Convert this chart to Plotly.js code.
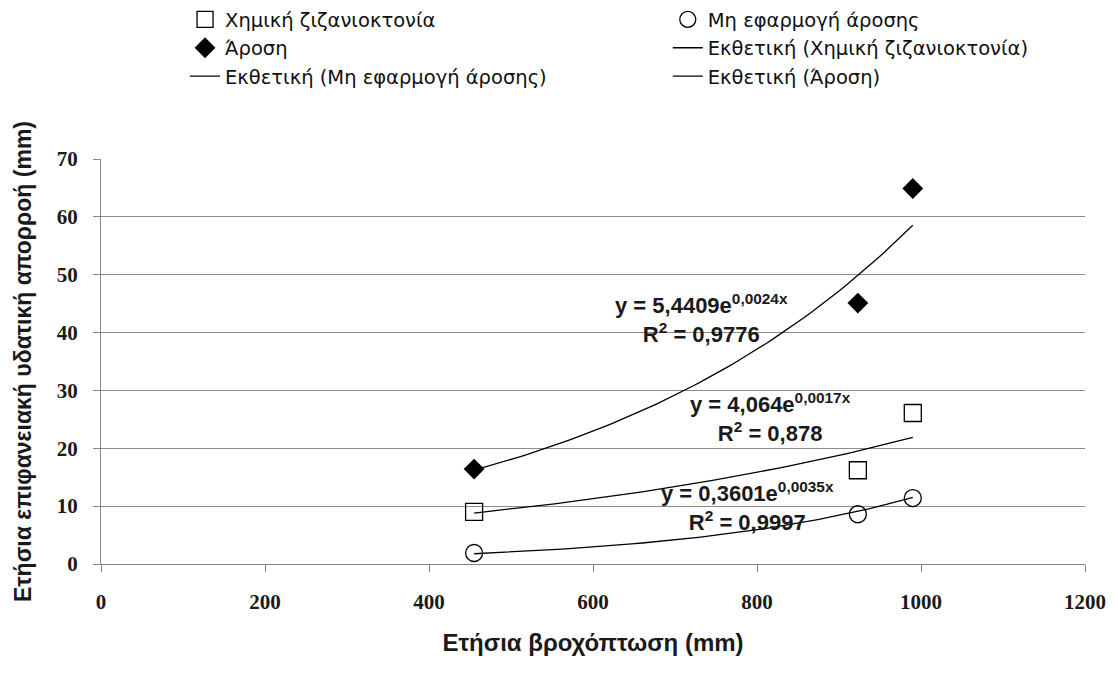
<!DOCTYPE html>
<html>
<head>
<meta charset="utf-8">
<script src="https://cdn.plot.ly/plotly-3.0.1.min.js"></script>
<style>html,body{margin:0;padding:0;background:#fff;}#chart{width:1118px;height:673px;}</style>
</head>
<body>
<div id="chart"></div>
<script>
// Data
const rainfall = [455, 923, 990];                 // Ετήσια βροχόπτωση (mm)
const chemical = [9.0, 16.2, 26.1];               // Χημική ζιζανιοκτονία
const noTillage = [1.9, 8.6, 11.4];               // Μη εφαρμογή άροσης
const tillage = [16.4, 45.1, 64.9];               // Άροση

const seriesNames = ['Χημική ζιζανιοκτονία', 'Μη εφαρμογή άροσης', 'Άροση'];
const trendNames = ['Εκθετική (Χημική ζιζανιοκτονία)', 'Εκθετική (Μη εφαρμογή άροσης)', 'Εκθετική (Άροση)'];

// Exponential trendline coefficients y = a·e^(b·x), as printed on the chart
const trendA = [4.064, 0.3601, 5.4409];
const trendB = [0.0017, 0.0035, 0.0024];
const trendR2 = ['0,878', '0,9997', '0,9776'];
const trendAText = ['4,064', '0,3601', '5,4409'];
const trendBText = ['0,0017', '0,0035', '0,0024'];

const xTicks = [0, 200, 400, 600, 800, 1000, 1200];
const yTicks = [0, 10, 20, 30, 40, 50, 60, 70];

function trendCurve(a, b) {
  const xs = [], ys = [];
  const x0 = Math.min(...rainfall), x1 = Math.max(...rainfall);
  const n = 60;
  for (let i = 0; i <= n; i++) {
    const x = x0 + (x1 - x0) * i / n;
    xs.push(x); ys.push(a * Math.exp(b * x));
  }
  return {xs, ys};
}

const sans = 'Liberation Sans, Arial, sans-serif';
const legendFont = {family: 'DejaVu Sans, sans-serif', size: 19.5, color: '#111'};
const black = '#000';

const traces = [
  {x: rainfall, y: chemical, name: seriesNames[0], mode: 'markers', type: 'scatter',
   legend: 'legend', legendrank: 1,
   marker: {symbol: 'square-open', size: 17, color: black, line: {width: 1.3, color: black}}},
  {x: rainfall, y: noTillage, name: seriesNames[1], mode: 'markers', type: 'scatter',
   legend: 'legend2', legendrank: 1,
   marker: {symbol: 'circle-open', size: 17, color: black, line: {width: 1.3, color: black}}},
  {x: rainfall, y: tillage, name: seriesNames[2], mode: 'markers', type: 'scatter',
   legend: 'legend', legendrank: 2,
   marker: {symbol: 'diamond', size: 16, color: black}}
];
// legend placement of trendlines: chem -> col 2 row 2, none -> col 1 row 3, tillage -> col 2 row 3
const trendLegend = ['legend2', 'legend', 'legend2'];
const trendRank = [2, 3, 3];
[0, 1, 2].forEach(function(i) {
  const c = trendCurve(trendA[i], trendB[i]);
  traces.push({x: c.xs, y: c.ys, name: trendNames[i], mode: 'lines', type: 'scatter',
    legend: trendLegend[i], legendrank: trendRank[i],
    line: {color: black, width: 1.3}, hoverinfo: 'skip'});
});

const annoFont = {family: sans, size: 22, color: '#1a1a1a', weight: 'bold'};
const annoPos = [[816, 25.4], [788, 10.0], [732, 42.5]];
const annotations = annoPos.map(function(p, i) {
  return {x: p[0], y: p[1], xref: 'x', yref: 'y', showarrow: false,
    text: 'y = ' + trendAText[i] + 'e<sup>' + trendBText[i] + 'x</sup><br>R<sup>2</sup> = ' + trendR2[i],
    font: annoFont, align: 'center', bgcolor: 'rgba(0,0,0,0)'};
});

const legendCommon = {orientation: 'v', xanchor: 'left', yanchor: 'top', font: legendFont,
  traceorder: 'normal', bgcolor: 'rgba(0,0,0,0)', borderwidth: 0, itemclick: false, tracegroupgap: 0};

const layout = {
  width: 1118, height: 673,
  paper_bgcolor: '#fff', plot_bgcolor: '#fff',
  margin: {l: 101, r: 33, t: 159, b: 109, autoexpand: false},
  showlegend: true,
  legend: Object.assign({x: 0.0854, y: 1.392}, legendCommon),
  legend2: Object.assign({x: 0.576, y: 1.392}, legendCommon),
  xaxis: {range: [0, 1200], tickvals: xTicks, ticktext: xTicks.map(String),
    showgrid: false, zeroline: false, showline: true, linecolor: '#868686', linewidth: 1,
    ticks: 'outside', ticklen: 7, tickcolor: '#868686', ticklabelstandoff: 12,
    tickfont: {family: 'Liberation Serif, serif', size: 21, color: '#1a1a1a', weight: 'bold'},
    title: {text: 'Ετήσια βροχόπτωση (mm)', standoff: 20,
      font: {family: sans, size: 24, color: '#1a1a1a', weight: 'bold'}},
    fixedrange: true},
  yaxis: {range: [0, 70], tickvals: yTicks, ticktext: yTicks.map(String),
    showgrid: true, gridcolor: '#8c8c8c', gridwidth: 1, zeroline: false,
    showline: true, linecolor: '#868686', linewidth: 1,
    ticks: 'outside', ticklen: 7, tickcolor: '#868686', ticklabelstandoff: 11,
    tickfont: {family: 'Liberation Serif, serif', size: 21, color: '#1a1a1a', weight: 'bold'},
    title: {text: 'Ετήσια επιφανειακή υδατική απορροή (mm)', standoff: 18,
      font: {family: sans, size: 23, color: '#1a1a1a', weight: 'bold'}},
    fixedrange: true},
  annotations: annotations
};

Plotly.newPlot('chart', traces, layout, {displayModeBar: false, staticPlot: true});
</script>
</body>
</html>
